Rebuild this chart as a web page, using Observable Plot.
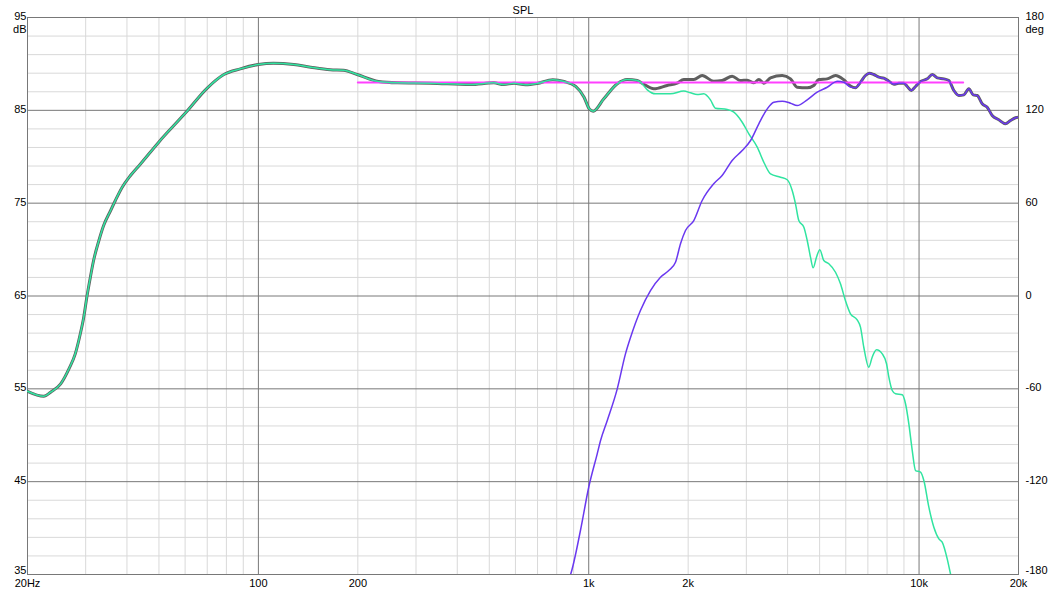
<!DOCTYPE html>
<html><head><meta charset="utf-8">
<script src="https://cdn.jsdelivr.net/npm/d3@7"></script>
<script src="https://cdn.jsdelivr.net/npm/@observablehq/plot@0.6"></script>
<style>body{margin:0;background:#fff;}</style>
</head><body><div id="chart"></div>
<script>
// Shared woofer + sum segment (20 Hz – 1.4 kHz)
const lowFreq = [20,22.4,23.5,25.2,26.7,27.9,28.9,29.6,30.3,31,31.7,32.9,34,35.7,36.9,38.7,41,43.9,50,60.1,70,78.6,88.2,100,111,128,144,165,181,199,231,263,332,438,516,553,594,644,698,778,842,913,968,1004,1032,1111,1220,1308,1402];
const lowDb   = [54.74,54.2,54.64,55.54,57.16,58.77,60.93,62.72,65.05,67.03,68.82,70.98,72.59,74.21,75.29,76.72,77.98,79.2,81.6,84.7,87.4,88.86,89.47,89.94,90.08,89.94,89.65,89.38,89.33,88.86,88.1,87.96,87.92,87.78,87.96,87.78,87.92,87.75,87.89,88.29,88.1,87.57,86.41,85.16,84.91,86.24,87.86,88.32,88.21];
// Sum only, mid band
const sumMidFreq = [1460,1574,1728,1852,1940,2080,2205,2390,2534,2718,2880,3019,3161,3273,3389,3551,3852,4082,4276,4586,4800,4972,5271,5585,5917,6200];
const sumMidDb   = [87.86,87.32,87.68,87.93,88.32,88.32,88.75,88.14,88.21,88.68,88.21,88.25,87.96,88.32,87.93,88.5,88.75,88.39,87.49,87.42,87.68,88.32,88.39,88.75,88.29,87.62];
// Shared tweeter + sum segment (6.4 kHz – 20 kHz)
const highFreq = [6420,6648,6883,7064,7294,7554,7824,8101,8389,8685,9000,9210,9468,9759,10105,10588,10964,11350,11883,12305,12741,13193,13664,14147,14590,15000,15528,16078,16648,17432,18265,18913,19585,20000];
const highDb   = [87.43,88.03,88.75,89.0,88.86,88.57,88.46,88.14,87.82,87.92,87.92,87.57,87.14,87.57,88.1,88.39,88.86,88.5,88.39,88.21,87.14,86.6,86.67,87.32,86.67,86.6,85.7,85.34,84.44,83.98,83.55,83.9,84.2,84.26];
// Woofer roll-off
const wooferFreq = [1434,1504,1592,1767,1940,2032,2129,2230,2336,2419,2625,2750,2915,3053,3237,3400,3551,3807,3989,4130,4226,4325,4480,4586,4692,4780,4892,5007,5148,5331,5585,5783,5985,6200,6496,6648,6803,7044,7213,7432,7737,7972,8101,8295,8490,8894,9100,9312,9537,9759,10105,10340,10707,11086,11480,11750,12168,12451,12800];
const wooferDb   = [88.03,87.21,86.78,86.78,87.07,86.89,86.7,86.78,86.13,85.23,85.09,84.8,83.72,82.47,81.03,79.3,78.16,77.8,77.52,76.36,74.93,73.13,72.41,70.98,69.18,68.04,69.18,69.98,68.82,68.47,67.56,66.31,64.51,63.08,62.43,61.64,59.48,57.33,58.41,59.2,58.77,57.7,56.25,54.82,54.46,54.36,53.39,51.23,48.35,46.2,46.02,45.12,42.25,40.09,38.84,38.48,36.69,35.07,33.3];
// Tweeter rise
const tweeterFreq = [850,881,944,1000,1061,1086,1138,1220,1292,1339,1434,1538,1649,1747,1831,1896,1963,2080,2205,2390,2534,2718,2915,3090,3273,3471,3634,3852,4082,4276,4586,4916,5271,5664,5917,6200];
const tweeterDb   = [33.8,35.0,39.74,44.4,48.0,49.43,51.59,55.0,58.77,60.56,63.44,65.59,67.03,67.75,68.64,70.62,72.05,73.13,75.29,77.09,77.98,79.6,80.67,81.75,83.55,85.16,85.88,85.99,85.77,85.52,86.13,86.95,87.49,88.14,88.03,87.5];
// Target line
const targetFreq = [200,13600];
const targetDb = [88,88];

// Axis / grid values
const xTickVals = [20,50,100,200,500,1000,2000,5000,10000,20000];
const xTickLabels = ["20Hz","50","100","200","500","1k","2k","5k","10k","20k"];
const yTickVals = [95,85,75,65,55,45,35];
const degLabels = ["180","120","60","0","-60","-120","-180"];
const darkX = [100,1000,10000];
const lightX = [30,40,50,60,70,80,90,200,300,400,500,600,700,800,900,2000,3000,4000,5000,6000,7000,8000,9000];
const darkY = [85,75,65,55,45];
const lightY = [37,39,41,43,47,49,51,53,57,59,61,63,67,69,71,73,77,79,81,83,87,89,91,93];

const rows = (fs, ds) => fs.map((f, i) => ({f, db: ds[i]}));
const sum = [...rows(lowFreq, lowDb), ...rows(sumMidFreq, sumMidDb), ...rows(highFreq, highDb)];
const woofer = [...rows(lowFreq, lowDb), ...rows(wooferFreq, wooferDb)];
const tweeter = [...rows(tweeterFreq, tweeterDb), ...rows(highFreq, highDb)];
const target = rows(targetFreq, targetDb);

const upperTicks = yTickVals.slice(0, -1);
const bottomTick = yTickVals.slice(-1);

const chart = Plot.plot({
  width: 1048, height: 600,
  marginLeft: 27, marginRight: 30, marginTop: 17, marginBottom: 26,
  style: {fontFamily: "'Liberation Sans', Arial, sans-serif", fontSize: "11px", background: "#fff", color: "#000", overflow: "visible"},
  x: {type: "log", domain: [20, 20000]},
  y: {domain: [35, 95]},
  marks: [
    Plot.ruleX(lightX, {stroke: "#d9d9d9", strokeWidth: 1}),
    Plot.ruleY(lightY, {stroke: "#d9d9d9", strokeWidth: 1}),
    Plot.ruleX(darkX, {stroke: "#787878", strokeWidth: 1}),
    Plot.ruleY(darkY, {stroke: "#787878", strokeWidth: 1}),
    Plot.frame({stroke: "#787878"}),
    Plot.line(sum, {x: "f", y: "db", stroke: "#5f5f5f", strokeWidth: 3, curve: "monotone-x", clip: true}),
    Plot.line(target, {x: "f", y: "db", stroke: "#ff40ff", strokeWidth: 2}),
    Plot.line(woofer, {x: "f", y: "db", stroke: "#30e4a0", strokeWidth: 1.5, curve: "monotone-x", clip: true}),
    Plot.line(tweeter, {x: "f", y: "db", stroke: "#6a38f0", strokeWidth: 1.5, curve: "monotone-x", clip: true}),
    Plot.axisX({ticks: xTickVals, tickSize: 0, tickPadding: 5, tickFormat: d => xTickLabels[xTickVals.indexOf(d)], label: null}),
    Plot.axisY({ticks: upperTicks, tickSize: 0, tickPadding: 1, tickFormat: d => String(d), label: null, dy: -1}),
    Plot.axisY({ticks: bottomTick, tickSize: 0, tickPadding: 1, tickFormat: d => String(d), label: null, dy: -4}),
    Plot.axisY({anchor: "right", ticks: upperTicks, tickSize: 0, tickPadding: 7, tickFormat: d => degLabels[yTickVals.indexOf(d)], label: null, dy: -1}),
    Plot.axisY({anchor: "right", ticks: bottomTick, tickSize: 0, tickPadding: 7, tickFormat: d => degLabels[yTickVals.indexOf(d)], label: null, dy: -4}),
    Plot.text(["dB"], {frameAnchor: "top-left", textAnchor: "end", dx: -1, dy: 8}),
    Plot.text(["deg"], {frameAnchor: "top-right", textAnchor: "start", dx: 7, dy: 8}),
    Plot.text(["SPL"], {frameAnchor: "top", dy: -11})
  ]
});
document.getElementById("chart").append(chart);
</script>
</body></html>
